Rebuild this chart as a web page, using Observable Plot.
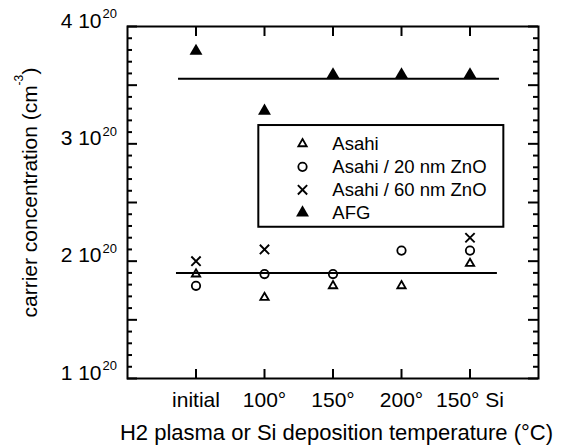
<!DOCTYPE html>
<html><head><meta charset="utf-8">
<script src="https://cdn.jsdelivr.net/npm/d3@7"></script>
<script src="https://cdn.jsdelivr.net/npm/@observablehq/plot@0.6"></script>
<style>body{margin:0;background:#fff;}</style>
</head><body><div id="chart"></div>
<script>
// categories on the x axis
const categories = ["initial", "100°", "150°", "200°", "150° Si"];
const seriesNames = ["Asahi", "Asahi / 20 nm ZnO", "Asahi / 60 nm ZnO", "AFG"];
// carrier concentration, units of 10^20 cm^-3
const asahi      = [1.89, 1.69, 1.79, 1.79, 1.98];
const asahiZnO20 = [1.79, 1.89, 1.89, 2.09, 2.09];
const asahiZnO60 = [2.00, 2.10, null, null, 2.20];
const afg        = [3.79, 3.28, 3.59, 3.59, 3.59];
// horizontal guide lines (level, start, end on the category axis)
const fitLevels = [3.555, 1.9];
const fitStart  = [0.745, 0.715];
const fitEnd    = [5.43, 5.40];
// y tick labels
const yTickValues = [1, 2, 3, 4];
const yTickMantissa = "10";
const yTickExponent = "20";
const xTitle = "H2 plasma or Si deposition temperature (°C)";
const yTitleBase = "carrier concentration (cm";
const yTitleSup = "-3";
const yTitleEnd = ")";

const seriesValues = [asahi, asahiZnO20, asahiZnO60, afg];
const styles = [
  {symbol: "triangle2", fill: "none", stroke: "black", r: 4.0, strokeWidth: 1.8},
  {symbol: "circle", fill: "none", stroke: "black", r: 4.2, strokeWidth: 1.8},
  {symbol: "times", fill: "none", stroke: "black", r: 4.3, strokeWidth: 1.9},
  {symbol: "triangle", fill: "black", stroke: "none", r: 4.8, strokeWidth: 0}
];
const catX = categories.map((c, i) => i + 1);
const yMajor = d3.range(2, 9).map(d => d / 2);
const yMinor = d3.range(10, 41).map(d => d / 10).filter(v => !yMajor.includes(v));

// layout
const W = 569, H = 448, mL = 127, mR = 31, mT = 26, mB = 70;
const fw = W - mL - mR, fh = H - mT - mB;
const majorLen = 10, minorLen = 5, xTickLen = 10;

// legend placement (category-axis / value units)
const legendBox = {x1: 1.917, x2: 5.494, y1: 2.289, y2: 3.156};
const legendSymX = 2.555, legendTextX = 2.99, legendTop = 3.0, legendStep = 0.196;

const rowsOf = vals => vals.map((v, i) => ({x: catX[i], y: v})).filter(d => d.y != null);
const tk = {stroke: "black", strokeWidth: 2};
const yLabel = d => `${d} ${yTickMantissa}`;

const marks = [
  Plot.rect([0], {x1: legendBox.x1, x2: legendBox.x2, y1: legendBox.y1, y2: legendBox.y2, fill: "white", stroke: "black", strokeWidth: 2}),
  Plot.ruleY(fitLevels, {y: d => d, x1: (d, i) => fitStart[i], x2: (d, i) => fitEnd[i], stroke: "black", strokeWidth: 2}),
  ...seriesValues.map((vals, k) => Plot.dot(rowsOf(vals), {x: "x", y: "y", ...styles[k]})),
  ...seriesNames.map((name, k) => Plot.dot([name], {x: legendSymX, y: legendTop - k * legendStep, ...styles[k]})),
  Plot.text(seriesNames, {x: legendTextX, y: (d, i) => legendTop - i * legendStep, text: d => d, textAnchor: "start", fontSize: 18.5, fill: "black"}),
  // inward ticks
  Plot.tickY(yMinor, {y: d => d, insetRight: fw - minorLen, ...tk}),
  Plot.tickY(yMajor, {y: d => d, insetRight: fw - majorLen, ...tk}),
  Plot.tickY(yMinor, {y: d => d, insetLeft: fw - minorLen, ...tk}),
  Plot.tickY(yMajor, {y: d => d, insetLeft: fw - majorLen, ...tk}),
  Plot.tickX(catX, {x: d => d, insetBottom: fh - xTickLen, ...tk}),
  Plot.tickX(catX, {x: d => d, insetTop: fh - xTickLen + 1, ...tk}),
  // y tick labels: mantissa and superscript exponent
  Plot.text(yTickValues, {y: d => d, frameAnchor: "left", text: yLabel, textAnchor: "end", dx: -26, dy: -5.7, fontSize: 21, fill: "black"}),
  Plot.text(yTickValues, {y: d => d, frameAnchor: "left", text: () => yTickExponent, textAnchor: "start", dx: -25, dy: -12.5, fontSize: 13, fill: "black"}),
  // x tick labels
  Plot.text(catX, {x: d => d, frameAnchor: "bottom", text: d => categories[d - 1], textAnchor: "middle", lineAnchor: "bottom", dy: 28, fontSize: 21, fill: "black"}),
  // titles
  Plot.text([xTitle], {frameAnchor: "bottom", text: d => d, dx: 3.5, dy: 61, lineAnchor: "bottom", fontSize: 22, fill: "black"}),
  Plot.text([yTitleBase], {frameAnchor: "left", text: d => d, textAnchor: "start", rotate: -90, dx: -97, dy: 115, fontSize: 21, fill: "black"}),
  Plot.text([yTitleSup], {frameAnchor: "left", text: d => d, textAnchor: "start", rotate: -90, dx: -108.5, dy: -117, fontSize: 12, fill: "black"}),
  Plot.text([yTitleEnd], {frameAnchor: "left", text: d => d, textAnchor: "start", rotate: -90, dx: -97, dy: -128, fontSize: 21, fill: "black"}),
  Plot.frame({stroke: "black", strokeWidth: 2})
];

const svg = Plot.plot({
  width: W, height: H,
  marginLeft: mL, marginRight: mR, marginTop: mT, marginBottom: mB,
  style: {fontFamily: "'Liberation Sans', Arial, Helvetica, sans-serif", background: "white", color: "black", overflow: "visible"},
  x: {type: "linear", domain: [0, 6], axis: null, label: null},
  y: {type: "linear", domain: [1, 4], axis: null, label: null},
  marks
});
document.getElementById("chart").appendChild(svg);
</script>
</body></html>
